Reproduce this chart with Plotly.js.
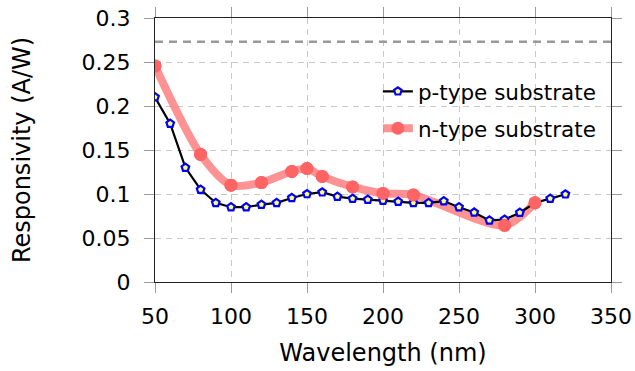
<!DOCTYPE html>
<html>
<head>
<meta charset="utf-8">
<script src="https://cdn.plot.ly/plotly-3.0.1.min.js"></script>
<style>html,body{margin:0;padding:0;background:#fff;}#chart{width:635px;height:371px;}</style>
</head>
<body>
<div id="chart"></div>
<script>
var pWavelength = [50,60,70,80,90,100,110,120,130,140,150,160,170,180,190,200,210,220,230,240,250,260,270,280,290,300,310,320];
var pResp = [0.210,0.180,0.130,0.105,0.090,0.085,0.085,0.088,0.090,0.0955,0.100,0.102,0.097,0.0947,0.0935,0.0924,0.0913,0.090,0.090,0.092,0.085,0.079,0.070,0.071,0.0788,0.090,0.0947,0.0997];
var nWavelength = [50,80,100,120,140,150,160,180,200,220,280,300];
var nResp = [0.2455,0.145,0.110,0.113,0.1257,0.129,0.120,0.108,0.1007,0.0989,0.0644,0.090];
var refX = [50,350];
var refY = [0.273,0.273];

var font = "DejaVu Sans, sans-serif";
var nMarker = {color: '#ff6464', size: 13, symbol: 'circle'};
var traces = [
  {x: refX, y: refY, mode: 'lines', line: {color: '#9a9a9a', width: 2.5, dash: '8px,6px'}, showlegend: false, hoverinfo: 'skip'},
  {x: nWavelength, y: nResp, mode: 'lines+markers', name: 'n-type substrate',
   legendgroup: 'b', legendrank: 2,
   line: {color: 'rgba(255,110,110,0.75)', width: 8, shape: 'spline', smoothing: 0.8},
   marker: nMarker},
  {x: pWavelength, y: pResp, mode: 'lines+markers', name: 'p-type substrate',
   legendgroup: 'a', legendrank: 1,
   line: {color: '#000000', width: 2.2},
   marker: {symbol: 'pentagon', size: 8, color: '#ffff66', line: {color: '#0000ff', width: 2.2}}},
  {x: nWavelength, y: nResp, mode: 'markers', showlegend: false, legendgroup: 'b', marker: nMarker}
];
var axisCommon = {
  showline: true, mirror: 'ticks', linecolor: '#222222', linewidth: 1,
  ticks: 'outside', ticklen: 10, tickcolor: '#9a9a9a', tickwidth: 1,
  showgrid: true, gridcolor: '#c8c8c8', griddash: '6px,5px', gridwidth: 1,
  zeroline: false,
  tickfont: {family: font, size: 22, color: '#000'}
};
var layout = {
  width: 635, height: 371,
  margin: {l: 155, r: 24, t: 17.5, b: 89},
  paper_bgcolor: '#fff', plot_bgcolor: '#fff',
  font: {family: font, color: '#000'},
  showlegend: true,
  legend: {x: 0.98, y: 0.80, xanchor: 'right', yanchor: 'top', traceorder: 'grouped', tracegroupgap: 6,
           bgcolor: 'rgba(255,255,255,0)', font: {family: font, size: 21.5}},
  xaxis: Object.assign({}, axisCommon, {range: [50, 350], tickvals: [50,100,150,200,250,300,350],
          ticklabelstandoff: 5,
          title: {text: 'Wavelength (nm)', font: {family: font, size: 24}, standoff: 15}}),
  yaxis: Object.assign({}, axisCommon, {range: [0, 0.3], tickvals: [0,0.05,0.1,0.15,0.2,0.25,0.3],
          ticklabelstandoff: 9,
          title: {text: 'Responsivity (A/W)', font: {family: font, size: 24}, standoff: 44}})
};
Plotly.newPlot('chart', traces, layout, {displayModeBar: false, staticPlot: true});
</script>
</body>
</html>
